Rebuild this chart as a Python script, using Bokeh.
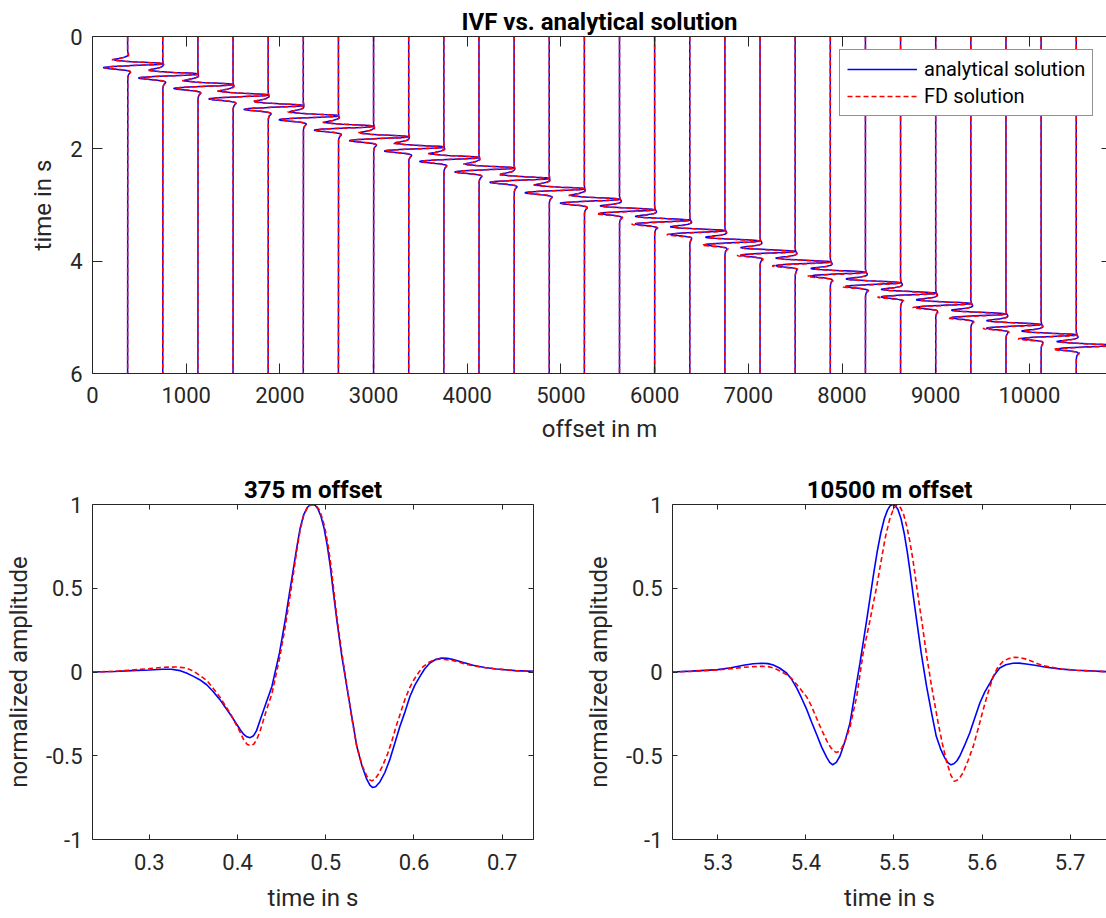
from bokeh.plotting import figure
from bokeh.layouts import column, row
from bokeh.models import Range1d, LinearAxis, FixedTicker, Legend, LegendItem, CustomJSTickFormatter
from bokeh.embed import file_html
from bokeh.resources import INLINE

# ---------------- data ----------------
offsets = [375, 750, 1125, 1500, 1875, 2250, 2625, 3000, 3375, 3750, 4125, 4500,
           4875, 5250, 5625, 6000, 6375, 6750, 7125, 7500, 7875, 8250, 8625, 9000,
           9375, 9750, 10125, 10500]
peak_times = [0.485, 0.670, 0.856, 1.042, 1.228, 1.413, 1.599, 1.785, 1.970, 2.156,
              2.342, 2.527, 2.713, 2.899, 3.084, 3.270, 3.456, 3.641, 3.827, 4.013,
              4.198, 4.384, 4.570, 4.755, 4.941, 5.127, 5.312, 5.4985]

# 375 m offset trace
t375_blue = [0.235, 0.26, 0.28, 0.30, 0.315, 0.325, 0.335, 0.342, 0.35, 0.357, 0.365,
             0.372, 0.38, 0.386, 0.392, 0.3975, 0.403, 0.407, 0.4105, 0.4143, 0.418,
             0.4215, 0.4257, 0.432, 0.4389, 0.4475, 0.454, 0.4585, 0.4625, 0.467,
             0.471, 0.475, 0.479, 0.482, 0.485, 0.488, 0.491, 0.4945, 0.498, 0.5015,
             0.505, 0.5085, 0.5125, 0.518, 0.5238, 0.529, 0.535, 0.541, 0.5464, 0.55,
             0.5532, 0.5565, 0.5615, 0.567, 0.5728, 0.578, 0.584, 0.59, 0.5955, 0.601,
             0.6068, 0.612, 0.618, 0.625, 0.6313, 0.638, 0.6445, 0.655, 0.667, 0.68,
             0.6936, 0.715, 0.735]
a375_blue = [0.0, 0.003, 0.008, 0.012, 0.016, 0.016, 0.008, -0.006, -0.026, -0.046,
             -0.076, -0.115, -0.165, -0.21, -0.255, -0.3, -0.345, -0.373, -0.387,
             -0.392, -0.381, -0.35, -0.285, -0.19, -0.086, 0.114, 0.31, 0.46, 0.59,
             0.74, 0.86, 0.94, 0.982, 0.997, 1.0, 0.995, 0.975, 0.93, 0.86, 0.76, 0.635,
             0.48, 0.31, 0.10, -0.086, -0.25, -0.44, -0.56, -0.64, -0.675, -0.69,
             -0.685, -0.655, -0.6, -0.52, -0.43, -0.325, -0.235, -0.145, -0.078,
             -0.026, 0.018, 0.054, 0.076, 0.084, 0.082, 0.074, 0.058, 0.04, 0.027,
             0.018, 0.008, 0.004]
t375_red = [0.235, 0.26, 0.28, 0.30, 0.315, 0.33, 0.34, 0.345, 0.35, 0.357, 0.365,
            0.372, 0.38, 0.386, 0.392, 0.3975, 0.403, 0.407, 0.411, 0.415, 0.4185,
            0.422, 0.4257, 0.432, 0.4389, 0.4475, 0.454, 0.4585, 0.4625, 0.467, 0.471,
            0.475, 0.479, 0.4825, 0.486, 0.4895, 0.493, 0.496, 0.499, 0.5025, 0.506,
            0.509, 0.5125, 0.518, 0.5238, 0.529, 0.535, 0.541, 0.5464, 0.5495, 0.5525,
            0.5555, 0.559, 0.564, 0.57, 0.575, 0.58, 0.585, 0.59, 0.595, 0.60, 0.605,
            0.61, 0.617, 0.623, 0.628, 0.635, 0.645, 0.66, 0.675, 0.69, 0.715, 0.735]
a375_red = [0.0, 0.004, 0.012, 0.02, 0.028, 0.03, 0.025, 0.017, 0.005, -0.02, -0.05,
            -0.095, -0.15, -0.2, -0.25, -0.305, -0.36, -0.405, -0.433, -0.44, -0.43,
            -0.40, -0.35, -0.24, -0.13, 0.08, 0.27, 0.42, 0.56, 0.72, 0.85, 0.935,
            0.98, 0.997, 1.0, 0.99, 0.965, 0.92, 0.86, 0.76, 0.63, 0.49, 0.33, 0.12,
            -0.08, -0.26, -0.44, -0.555, -0.62, -0.643, -0.65, -0.64, -0.615, -0.565,
            -0.49, -0.41, -0.32, -0.24, -0.16, -0.095, -0.045, -0.005, 0.03, 0.058,
            0.072, 0.076, 0.075, 0.068, 0.045, 0.03, 0.02, 0.008, 0.003]

# 10500 m offset trace
t10500_blue = [5.248, 5.27, 5.30, 5.315, 5.329, 5.34, 5.35, 5.357, 5.363, 5.37, 5.378,
               5.384, 5.3896, 5.395, 5.401, 5.4065, 5.4123, 5.418, 5.4236, 5.427,
               5.4304, 5.4345, 5.4388, 5.444, 5.45, 5.4555, 5.4614, 5.469, 5.473,
               5.477, 5.481, 5.485, 5.489, 5.4925, 5.4955, 5.4985, 5.5015, 5.5045,
               5.508, 5.5115, 5.515, 5.5185, 5.522, 5.5257, 5.531, 5.537, 5.5425,
               5.548, 5.553, 5.5578, 5.5615, 5.5647, 5.568, 5.5715, 5.5749, 5.58,
               5.586, 5.592, 5.5975, 5.603, 5.6089, 5.614, 5.62, 5.627, 5.635, 5.642,
               5.65, 5.66, 5.673, 5.69, 5.707, 5.7415]
a10500_blue = [0.0, 0.005, 0.014, 0.025, 0.04, 0.049, 0.052, 0.05, 0.042, 0.024,
               -0.006, -0.045, -0.096, -0.155, -0.225, -0.3, -0.375, -0.45, -0.51,
               -0.54, -0.554, -0.54, -0.5, -0.42, -0.305, -0.13, 0.054, 0.31, 0.45,
               0.59, 0.72, 0.83, 0.915, 0.965, 0.992, 1.0, 0.993, 0.97, 0.915, 0.83,
               0.72, 0.59, 0.45, 0.31, 0.11, -0.086, -0.24, -0.384, -0.46, -0.514,
               -0.543, -0.554, -0.548, -0.53, -0.5, -0.44, -0.364, -0.27, -0.185,
               -0.12, -0.066, -0.018, 0.024, 0.043, 0.052, 0.053, 0.048, 0.04, 0.028,
               0.017, 0.01, 0.002]
t10500_red = [5.248, 5.27, 5.30, 5.315, 5.329, 5.34, 5.35, 5.357, 5.363, 5.37, 5.378,
              5.384, 5.3896, 5.395, 5.401, 5.406, 5.41, 5.4165, 5.4236, 5.428, 5.4315,
              5.4345, 5.4375, 5.4406, 5.445, 5.45, 5.4577, 5.465, 5.4728, 5.4765,
              5.48, 5.485, 5.49, 5.495, 5.4995, 5.5035, 5.5075, 5.511, 5.5145, 5.518,
              5.5215, 5.525, 5.5285, 5.5314, 5.537, 5.5427, 5.55, 5.555, 5.56, 5.5645,
              5.5684, 5.572, 5.5755, 5.5786, 5.584, 5.59, 5.596, 5.6013, 5.607, 5.6127,
              5.618, 5.624, 5.63, 5.6372, 5.644, 5.65, 5.669, 5.69, 5.707, 5.7415]
a10500_red = [0.0, 0.004, 0.012, 0.02, 0.028, 0.032, 0.034, 0.032, 0.025, 0.008,
              -0.016, -0.04, -0.075, -0.11, -0.15, -0.2, -0.25, -0.33, -0.41, -0.45,
              -0.472, -0.48, -0.474, -0.455, -0.405, -0.33, -0.145, 0.114, 0.31, 0.41,
              0.5, 0.65, 0.8, 0.91, 0.975, 1.0, 0.98, 0.94, 0.87, 0.78, 0.67, 0.54,
              0.41, 0.31, 0.1, -0.086, -0.30, -0.43, -0.54, -0.615, -0.653, -0.645,
              -0.625, -0.6, -0.53, -0.444, -0.33, -0.225, -0.12, -0.026, 0.03, 0.064,
              0.08, 0.088, 0.085, 0.077, 0.038, 0.018, 0.01, 0.002]
peak_375 = 0.485
peak_10500 = 5.4985

x_ticks_top = [0, 1000, 2000, 3000, 4000, 5000, 6000, 7000, 8000, 9000, 10000]
y_ticks_top = [0, 2, 4, 6]
amp_ticks = [-1, -0.5, 0, 0.5, 1]
amp_labels = {-1: "-1", -0.5: "-0.5", 0: "0", 0.5: "0.5", 1: "1"}
t_ticks_375 = [0.3, 0.4, 0.5, 0.6, 0.7]
t_ticks_10500 = [5.3, 5.4, 5.5, 5.6, 5.7]

# ---------------- styling ----------------
TRACE_SCALE = 375.0   # metres per unit of normalized amplitude in the wiggle plot
AX = "#262626"
FONT = "Roboto"
TICK_FS = "22px"
LABEL_FS = "24px"
TITLE_FS = "24px"
BLUE = "#0000ff"
RED = "#ff0000"
DASH = "5 3"


def style_axis(ax, tick_len, show_labels=True):
    ax.axis_line_color = AX
    ax.axis_line_width = 1
    ax.major_tick_line_color = AX
    ax.major_tick_in = tick_len
    ax.major_tick_out = 0
    ax.minor_tick_line_color = None
    ax.major_label_text_font = FONT
    ax.major_label_text_color = AX
    ax.axis_label_text_font = FONT
    ax.axis_label_text_font_style = "normal"
    ax.axis_label_text_color = AX
    ax.axis_label_text_font_size = LABEL_FS
    if show_labels:
        ax.major_label_text_font_size = TICK_FS
    else:
        ax.major_label_text_font_size = "0px"
        ax.major_label_standoff = 0
        ax.formatter = CustomJSTickFormatter(code="return ''")


def base_fig(width, height, xr, yr, mb, title):
    p = figure(width=width, height=height, x_range=xr, y_range=yr,
               output_backend="svg", toolbar_location=None)
    p.min_border_left, p.min_border_right, p.min_border_top, p.min_border_bottom = mb
    p.outline_line_color = None
    p.xgrid.visible = False
    p.ygrid.visible = False
    p.background_fill_color = "white"
    p.border_fill_color = "white"
    p.title.text = title
    p.title.align = "center"
    p.title.text_font = FONT
    p.title.text_font_size = TITLE_FS
    p.title.text_font_style = "bold"
    p.title.text_color = "black"
    p.title.standoff = 2
    return p


# ---------------- top panel ----------------
top = base_fig(1106, 460, Range1d(0, 10823), Range1d(6, 0), (92, 0, 36, 87),
               "IVF vs. analytical solution")
top.title.offset = 3
bx, by, rx, ry = [], [], [], []
for off, tp in zip(offsets, peak_times):
    if off <= 5250:
        tb, ab, tr, ar, tref = t375_blue, a375_blue, t375_red, a375_red, peak_375
    else:
        tb, ab, tr, ar, tref = t10500_blue, a10500_blue, t10500_red, a10500_red, peak_10500
    by.append([0.0] + [t - tref + tp for t in tb] + [6.0])
    bx.append([off] + [off + TRACE_SCALE * a for a in ab] + [off])
    ry.append([0.0] + [t - tref + tp for t in tr] + [6.0])
    rx.append([off] + [off + TRACE_SCALE * a for a in ar] + [off])
rb = top.multi_line(xs=bx, ys=by, line_color=BLUE, line_width=1.5)
rr = top.multi_line(xs=rx, ys=ry, line_color=RED, line_width=1.5, line_dash=DASH)

top.xaxis.ticker = FixedTicker(ticks=x_ticks_top)
top.yaxis.ticker = FixedTicker(ticks=y_ticks_top)
top.xaxis.axis_label = "offset in m"
top.yaxis.axis_label = "time in s"
style_axis(top.xaxis[0], 10)
style_axis(top.yaxis[0], 10)
top.xaxis.major_label_standoff = 13
top.xaxis.axis_label_standoff = 9
top.yaxis.major_label_standoff = 10
top.yaxis.axis_label_standoff = 10
ab_ax = LinearAxis(ticker=FixedTicker(ticks=x_ticks_top))
style_axis(ab_ax, 10, False)
top.add_layout(ab_ax, "above")
rt_ax = LinearAxis(ticker=FixedTicker(ticks=y_ticks_top))
style_axis(rt_ax, 5, False)
rt_ax.axis_line_color = None
top.add_layout(rt_ax, "right")

legend = Legend(items=[LegendItem(label="analytical solution", renderers=[rb]),
                       LegendItem(label="FD solution", renderers=[rr])],
                location=(747, 257), margin=0, padding=7, spacing=3,
                glyph_width=70, glyph_height=24, label_height=24, label_standoff=7,
                label_text_font=FONT, label_text_font_size="20px",
                label_text_color="black", border_line_color=AX, border_line_width=1,
                background_fill_color="white", background_fill_alpha=1.0)
top.add_layout(legend)


# ---------------- bottom panels ----------------
def bottom_panel(width, xr, mb, title, tb, ab, tr, ar, ticks, right_axis, title_off):
    p = base_fig(width, 458, xr, Range1d(-1, 1), mb, title)
    p.title.offset = title_off
    p.line(tb, ab, line_color=BLUE, line_width=1.6)
    p.line(tr, ar, line_color=RED, line_width=1.6, line_dash=DASH)
    p.xaxis.ticker = FixedTicker(ticks=ticks)
    p.yaxis.ticker = FixedTicker(ticks=amp_ticks)
    p.yaxis.major_label_overrides = amp_labels
    p.xaxis.axis_label = "time in s"
    p.yaxis.axis_label = "normalized amplitude"
    style_axis(p.xaxis[0], 5)
    style_axis(p.yaxis[0], 5)
    p.xaxis.major_label_standoff = 14
    p.xaxis.axis_label_standoff = 11
    p.yaxis.major_label_standoff = 10
    p.yaxis.axis_label_standoff = 10
    a1 = LinearAxis(ticker=FixedTicker(ticks=ticks))
    style_axis(a1, 5, False)
    p.add_layout(a1, "above")
    if right_axis:
        a2 = LinearAxis(ticker=FixedTicker(ticks=amp_ticks))
        style_axis(a2, 5, False)
        p.add_layout(a2, "right")
    return p


bl = bottom_panel(560, Range1d(0.2355, 0.7355), (92, 27, 44, 79), "375 m offset",
                  t375_blue, a375_blue, t375_red, a375_red, t_ticks_375, True, 0)
br = bottom_panel(546, Range1d(5.2485, 5.7413), (112, 0, 44, 79), "10500 m offset",
                  t10500_blue, a10500_blue, t10500_red, a10500_red, t_ticks_10500,
                  False, 3)

layout = column(top, row(bl, br, spacing=0), spacing=0)
open("out.html", "w").write(file_html(layout, INLINE))
